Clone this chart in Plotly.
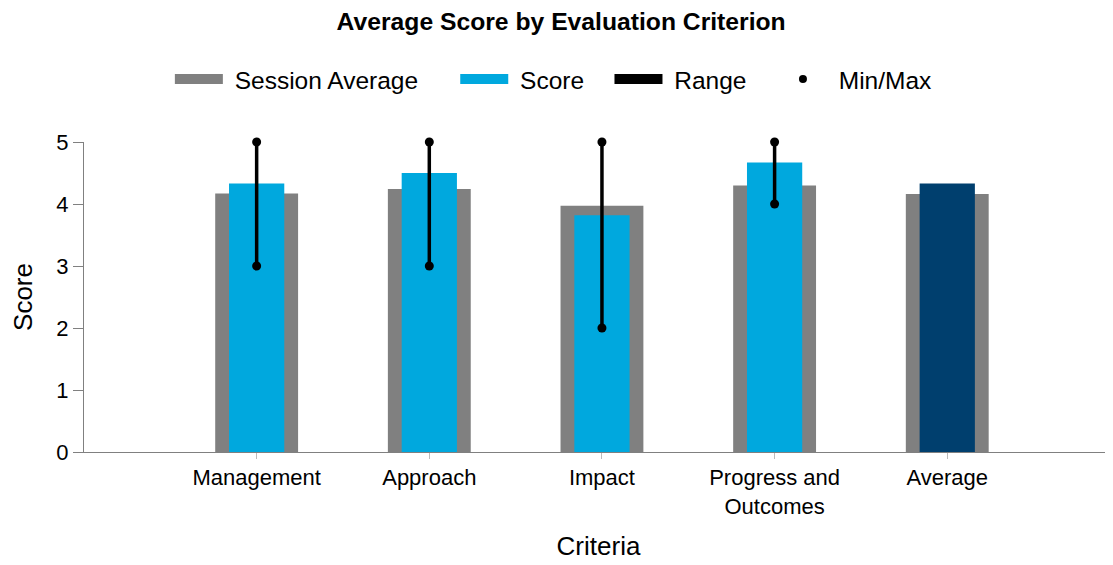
import plotly.graph_objects as go

criteria = ["Management", "Approach", "Impact", "Progress and<br>Outcomes", "Average"]
session_avg = [4.17, 4.24, 3.97, 4.30, 4.16]
scores = [4.33, 4.50, 3.82, 4.67, 4.33]
score_colors = ["#00A8DE", "#00A8DE", "#00A8DE", "#00A8DE", "#003F6E"]
range_cats = ["Management", "Approach", "Impact", "Progress and<br>Outcomes"]
range_min = [3, 3, 2, 4]
range_max = [5, 5, 5, 5]

FONT = "Arial, Liberation Sans, sans-serif"
NB = "\u00a0"
legend_pads = {"Session Average": NB * 4 + "\u2009", "Score": NB * 3, "Range": NB * 3 + "\u200a"}

fig = go.Figure()

fig.add_trace(go.Bar(x=criteria, y=session_avg, width=0.48, marker_color="#808080",
                     marker_line_width=0, name="Session Average", showlegend=False))
fig.add_trace(go.Bar(x=criteria, y=scores, width=0.32, marker_color=score_colors,
                     marker_line_width=0, name="Score", showlegend=False))

# range lines: min -> max per criterion
lx, ly = [], []
for c, lo, hi in zip(range_cats, range_min, range_max):
    lx += [c, c, None]
    ly += [lo, hi, None]
fig.add_trace(go.Scatter(x=lx, y=ly, mode="lines", line=dict(color="black", width=3.5),
                         name="Range", showlegend=False, cliponaxis=False))
fig.add_trace(go.Scatter(x=range_cats * 2, y=range_min + range_max, mode="markers",
                         marker=dict(color="black", size=9), name="Min/Max",
                         showlegend=False, cliponaxis=False))

# legend-only entries
for name, col in [("Session Average", "#808080"), ("Score", "#00A8DE"), ("Range", "black")]:
    fig.add_trace(go.Scatter(x=[None], y=[None], mode="lines", name=NB + name + legend_pads[name],
                             line=dict(color=col, width=24)))
fig.add_trace(go.Scatter(x=[None], y=[None], mode="markers", name=NB + "Min/Max",
                         marker=dict(color="black", size=8)))

fig.update_layout(
    width=1113, height=565,
    barmode="overlay",
    plot_bgcolor="white", paper_bgcolor="white",
    font=dict(family=FONT, size=22, color="black"),
    margin=dict(l=76, r=8, t=134, b=121, autoexpand=False),
    title=dict(text="<b>Average Score by Evaluation Criterion</b>", x=0.497, xanchor="center",
               yref="container", y=0.977, yanchor="middle",
               font=dict(family=FONT, size=24.7, color="black")),
    legend=dict(orientation="h", xref="container", x=0.49, xanchor="center",
                yref="container", y=0.874, yanchor="middle",
                font=dict(family=FONT, size=24.5, color="black"),
                itemwidth=48, traceorder="normal"),
)
fig.update_xaxes(title=dict(text="Criteria", standoff=18),
                 range=[-1, 4.96],
                 showline=True, linecolor="#808080", linewidth=1,
                 ticks="outside", ticklen=6, tickcolor="#BBBBBB", showgrid=False)
fig.update_yaxes(title=dict(text="Score", standoff=25),
                 range=[0, 5], dtick=1,
                 showline=True, linecolor="#808080", linewidth=1,
                 ticks="outside", ticklen=10, tickcolor="#808080", showgrid=False, zeroline=False)

fig.write_html("out.html")
